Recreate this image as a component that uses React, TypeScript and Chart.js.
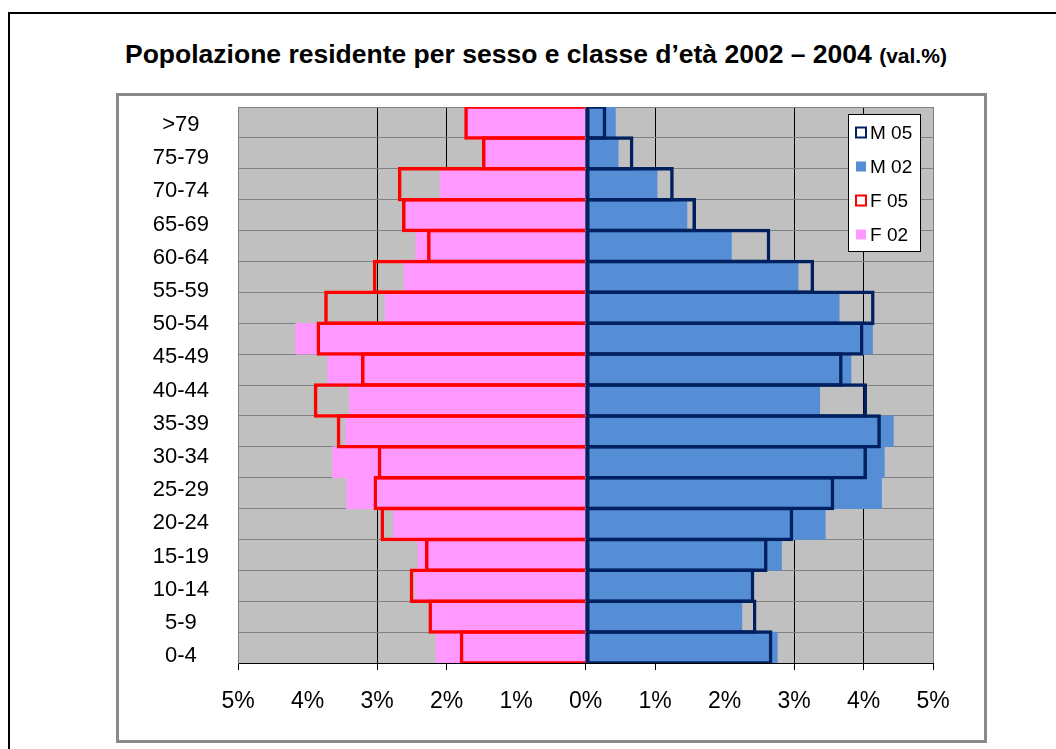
import React, { useEffect, useRef } from 'react';
import { Chart, registerables } from 'chart.js';

Chart.register(...registerables);

// Age-class labels shown on the left (top to bottom)
const AGE_LABELS = ['>79', '75-79', '70-74', '65-69', '60-64', '55-59', '50-54', '45-49', '40-44', '35-39', '30-34', '25-29', '20-24', '15-19', '10-14', '5-9', '0-4'];

// Bar rows as drawn in the picture (18 bands, top to bottom)
const BAR_ROWS = ['>84', '80-84', '75-79', '70-74', '65-69', '60-64', '55-59', '50-54', '45-49', '40-44', '35-39', '30-34', '25-29', '20-24', '15-19', '10-14', '5-9', '0-4'];

// Values in % (top row first)
const M05 = [0.30, 0.69, 1.27, 1.59, 2.66, 3.29, 4.16, 4.00, 3.70, 4.05, 4.25, 4.05, 3.58, 2.99, 2.62, 2.43, 2.46, 2.69];
const M02 = [0.43, 0.47, 1.03, 1.46, 2.10, 3.06, 3.65, 4.13, 3.82, 3.37, 4.43, 4.30, 4.26, 3.45, 2.82, 2.38, 2.25, 2.76];
const F05 = [1.745, 1.49, 2.70, 2.64, 2.28, 3.06, 3.76, 3.87, 3.23, 3.91, 3.58, 2.99, 3.05, 2.95, 2.31, 2.53, 2.26, 1.81];
const F02 = [1.70, 1.45, 2.09, 2.58, 2.44, 2.61, 2.88, 4.17, 3.71, 3.40, 3.45, 3.64, 3.44, 2.76, 2.41, 2.45, 2.20, 2.15];

const SERIES_LABELS = ['M 05', 'M 02', 'F 05', 'F 02'];

const X_MIN = -5;
const X_MAX = 5;
const X_GRID_VALUES = [-3, -2, 0, 1, 3, 4];
const X_EDGE_VALUES = [-5, 5];

const NAVY = '#002060';
const BLUE = '#558ed5';
const RED = '#ff0000';
const PINK = '#ff99ff';
const PLOT_BG = '#c0c0c0';
const FONT = "'Liberation Sans', Arial, sans-serif";
const OUTLINE_W = 3.5;

const plotBg = {
  id: 'plotBg',
  beforeDraw(chart: any) {
    const { ctx, chartArea } = chart;
    ctx.save();
    ctx.fillStyle = PLOT_BG;
    ctx.fillRect(chartArea.left, chartArea.top, chartArea.right - chartArea.left, chartArea.bottom - chartArea.top);
    ctx.restore();
  },
};

const boxLegend = {
  id: 'boxLegend',
  afterDraw(chart: any) {
    const { ctx, chartArea } = chart;
    const w = 72;
    const h = 137;
    const left = chartArea.right - 85;
    const top = chartArea.top + 7;
    ctx.save();
    ctx.fillStyle = '#ffffff';
    ctx.fillRect(left, top, w, h);
    ctx.strokeStyle = '#000000';
    ctx.lineWidth = 1;
    ctx.strokeRect(left + 0.5, top + 0.5, w, h);
    ctx.font = `19px ${FONT}`;
    ctx.textBaseline = 'middle';
    ctx.textAlign = 'left';
    chart.data.datasets.forEach((ds: any, i: number) => {
      const cy = top + 18.5 + i * 34;
      const mx = left + 7;
      const outline = ds.borderWidth > 0;
      if (outline) {
        ctx.fillStyle = '#ffffff';
        ctx.fillRect(mx, cy - 6, 12, 12);
        ctx.strokeStyle = ds.borderColor;
        ctx.lineWidth = 2;
        ctx.strokeRect(mx + 1, cy - 5, 10, 10);
      } else {
        ctx.fillStyle = ds.backgroundColor;
        ctx.fillRect(mx + 1, cy - 5, 10, 10);
      }
      ctx.fillStyle = '#000000';
      ctx.fillText(ds.label, left + 22, cy + 1);
    });
    ctx.restore();
  },
};

export default function App() {
  const ref = useRef<HTMLCanvasElement>(null);

  useEffect(() => {
    if (!ref.current) return;
    const chart = new Chart(ref.current, {
      type: 'bar',
      data: {
        labels: BAR_ROWS,
        datasets: [
          {
            label: SERIES_LABELS[0],
            data: M05,
            backgroundColor: 'rgba(0,0,0,0)',
            borderColor: NAVY,
            borderWidth: OUTLINE_W,
            borderSkipped: false,
            barPercentage: 1.113,
            categoryPercentage: 1,
            grouped: false,
          } as any,
          {
            label: SERIES_LABELS[1],
            data: M02,
            backgroundColor: BLUE,
            borderWidth: 0,
            barPercentage: 1,
            categoryPercentage: 1,
            grouped: false,
          } as any,
          {
            label: SERIES_LABELS[2],
            data: F05.map((v) => -v),
            backgroundColor: 'rgba(0,0,0,0)',
            borderColor: RED,
            borderWidth: OUTLINE_W,
            borderSkipped: 'start',
            barPercentage: 1.113,
            categoryPercentage: 1,
            grouped: false,
          } as any,
          {
            label: SERIES_LABELS[3],
            data: F02.map((v) => -v),
            backgroundColor: PINK,
            borderWidth: 0,
            barPercentage: 1,
            categoryPercentage: 1,
            grouped: false,
          } as any,
        ],
      },
      options: {
        indexAxis: 'y',
        responsive: false,
        animation: false,
        events: [],
        layout: { padding: { left: 0, top: 107, right: 123, bottom: 26 } },
        plugins: {
          legend: { display: false },
          tooltip: { enabled: false },
          title: { display: false },
        },
        scales: {
          x: {
            type: 'linear',
            position: 'bottom',
            min: X_MIN,
            max: X_MAX,
            ticks: {
              stepSize: 1,
              autoSkip: false,
              maxRotation: 0,
              padding: 18,
              color: '#000',
              font: { family: FONT, size: 23 },
              callback: (v: any) => Math.abs(Number(v)) + '%',
            },
            grid: {
              lineWidth: 1,
              drawTicks: true,
              tickLength: 7,
              color: (c: any) => {
                const v = c.tick ? c.tick.value : null;
                if (X_EDGE_VALUES.includes(v)) return '#808080';
                if (X_GRID_VALUES.includes(v)) return '#000000';
                return 'rgba(0,0,0,0)';
              },
              tickColor: (c: any) => {
                const v = c.tick ? c.tick.value : null;
                if (X_EDGE_VALUES.includes(v) || X_GRID_VALUES.includes(v)) return '#000000';
                return 'rgba(0,0,0,0)';
              },
            },
            border: { display: true, color: '#000', width: 1 },
            afterFit: (s: any) => { s.height = 60; },
          } as any,
          y: {
            type: 'category',
            position: 'left',
            weight: 0,
            offset: true,
            ticks: { display: false },
            grid: { color: '#808080', lineWidth: 1, drawTicks: false, offset: true },
            border: { display: true, color: '#808080', width: 1 },
            afterFit: (s: any) => { s.width = 0; },
          } as any,
          ageAxis: {
            type: 'linear',
            position: 'left',
            weight: 1,
            reverse: true,
            offset: false,
            beginAtZero: false,
            min: -0.542,
            max: 16.205,
            afterBuildTicks: (s: any) => {
              s.ticks = AGE_LABELS.map((_, i) => ({ value: i }));
            },
            ticks: {
              autoSkip: false,
              crossAlign: 'center',
              padding: 29,
              color: '#000',
              font: { family: FONT, size: 22 },
              callback: (v: any) => AGE_LABELS[Number(v)],
            },
            grid: { display: false, drawTicks: false, offset: false },
            border: { display: false },
            afterFit: (s: any) => { s.width = 238; },
          } as any,
        },
      },
      plugins: [plotBg, boxLegend],
    });
    return () => chart.destroy();
  }, []);

  return (
    <div style={{ position: 'absolute', left: 0, top: 0, width: 1056, height: 749, overflow: 'hidden', background: '#fff' }}>
      <div style={{ position: 'absolute', left: 8, top: 12, width: 1200, height: 900, borderTop: '2px solid #000', borderLeft: '2px solid #000' }} />
      <div style={{ position: 'absolute', left: 116, top: 93, width: 865, height: 644, border: '3px solid #8a8a8a' }} />
      <div
        style={{
          position: 'absolute',
          left: 125,
          top: 39,
          whiteSpace: 'nowrap',
          fontFamily: FONT,
          fontWeight: 'bold',
          fontSize: '26.5px',
          lineHeight: '30px',
          color: '#000',
        }}
      >
        Popolazione residente per sesso e classe d’età 2002 – 2004 <span style={{ fontSize: '21px' }}>(val.%)</span>
      </div>
      <canvas ref={ref} width={1056} height={749} style={{ position: 'absolute', left: 0, top: 0, width: 1056, height: 749 }} />
    </div>
  );
}
